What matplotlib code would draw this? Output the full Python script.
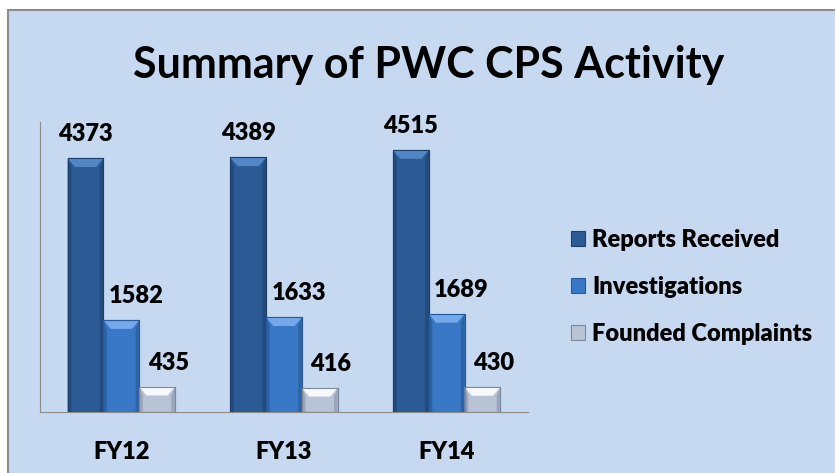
import matplotlib.pyplot as plt
from matplotlib.patches import Rectangle, Polygon
import numpy as np

years = ["FY12", "FY13", "FY14"]
series = ["Reports Received", "Investigations", "Founded Complaints"]
reports = [4373, 4389, 4515]
investigations = [1582, 1633, 1689]
founded = [435, 416, 430]

colors = ["#2C5A94", "#3878C6", "#B9C3D6"]
tops = ["#5386C4", "#74A8EA", "#F6F8FC"]
sides = ["#224A7C", "#2C64A8", "#9AA6BC"]
edges = ["#1E3F6A", "#285A99", "#7D889C"]
label_dx = [0, 15, 11]   # data label shift, pixels

plt.rcParams["font.family"] = ["Lato", "DejaVu Sans"]

bg = "#C6D9F1"
fig = plt.figure(figsize=(8.35, 4.73), dpi=100)
fig.patch.set_facecolor("white")
# chart area with grey border (cropped on the right and bottom)
fig.patches.append(Rectangle((8 / 835, -0.05), 1.0, 1 - 10 / 473 + 0.05,
                             transform=fig.transFigure, facecolor=bg,
                             edgecolor="#8C8C8C", linewidth=1.5, zorder=0))

ax = fig.add_axes([40 / 835, (473 - 412) / 473, (528 - 40) / 835, (412 - 122) / 473])
ax.set_facecolor("none")
ax.set_zorder(2)
ax.set_xlim(-0.5, 2.5)
ax.set_ylim(0, 5000)

x = np.arange(len(years))
w = 0.22
bev_x = 0.045   # bevel size in data units (x)
bev_y = 150     # bevel size in data units (y)
for i, vals in enumerate([reports, investigations, founded]):
    pos = x + (i - 1) * w
    bars = ax.bar(pos, vals, width=w, color=colors[i], edgecolor=edges[i],
                  linewidth=0.8, label=series[i], zorder=2)
    for b in bars:
        x0, y0 = b.get_x(), b.get_y()
        bw, bh = b.get_width(), b.get_height()
        x1, y1 = x0 + bw, y0 + bh
        # top bevel (light)
        ax.add_patch(Polygon([(x0, y1), (x1, y1), (x1 - bev_x, y1 - bev_y),
                              (x0 + bev_x, y1 - bev_y)], closed=True,
                             facecolor=tops[i], edgecolor="none", zorder=3))
        # side bevels (darker)
        ax.add_patch(Polygon([(x0, y0), (x0, y1), (x0 + bev_x * 0.5, y1 - bev_y),
                              (x0 + bev_x * 0.5, y0)], closed=True,
                             facecolor=sides[i], edgecolor="none", zorder=3))
        ax.add_patch(Polygon([(x1, y0), (x1, y1), (x1 - bev_x * 0.5, y1 - bev_y),
                              (x1 - bev_x * 0.5, y0)], closed=True,
                             facecolor=sides[i], edgecolor="none", zorder=3))
        ax.add_patch(Rectangle((x0, y0), bw, bh, facecolor="none",
                               edgecolor=edges[i], linewidth=0.8, zorder=4))
    for px, v in zip(pos, vals):
        ax.annotate(str(v), (px, v), xytext=(label_dx[i], 24),
                    textcoords="offset pixels", ha="center", va="center",
                    fontsize=17, fontweight="heavy", color="black",
                    annotation_clip=False)

ax.set_xticks(x)
ax.set_xticklabels(years, fontsize=17, fontweight="heavy")
ax.tick_params(axis="x", length=0, pad=21)
ax.set_yticks([])
for s in ["top", "right"]:
    ax.spines[s].set_visible(False)
ax.spines["left"].set_color("#8C8C8C")
ax.spines["bottom"].set_color("#8C8C8C")

fig.text(429 / 835, 1 - 65 / 473, "Summary of PWC CPS Activity", ha="center",
         va="center", fontsize=31, fontweight="bold", color="black")

leg = fig.legend(loc="center left", bbox_to_anchor=(550 / 835, 1 - 287 / 473),
                 frameon=False, handlelength=0.6, handleheight=0.6,
                 handletextpad=0.3, labelspacing=1.05,
                 prop={"weight": "heavy", "size": 17})
leg.set_zorder(3)

fig.savefig("out.png", dpi=100, facecolor=fig.get_facecolor())
